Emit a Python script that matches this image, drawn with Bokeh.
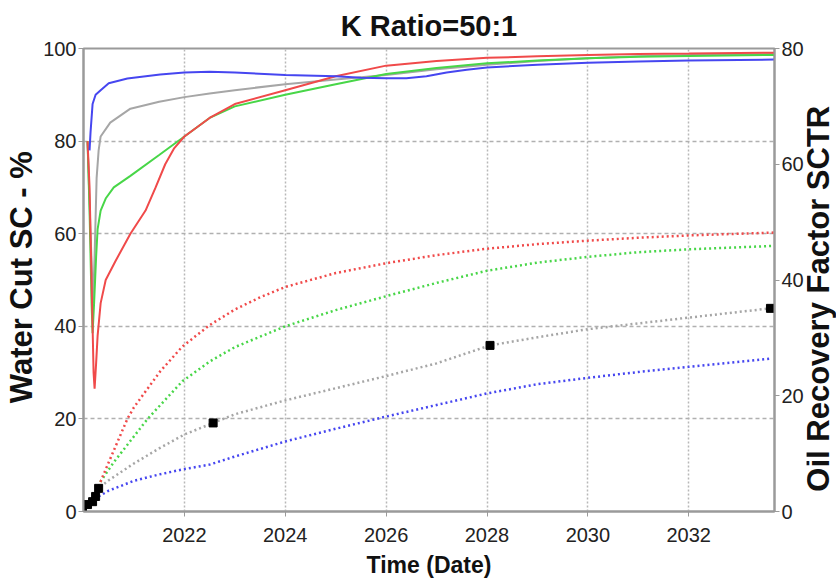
import math
from bokeh.plotting import figure
from bokeh.layouts import row
from bokeh.models import Range1d, LinearAxis, FixedTicker
from bokeh.core.properties import value
from bokeh.embed import file_html
from bokeh.resources import INLINE

# ---------------- data ----------------
# Water cut (left axis, %)
red_wc_t = [2020.08, 2020.12, 2020.17, 2020.20, 2020.22, 2020.25, 2020.28, 2020.34, 2020.44, 2020.63,
            2020.93, 2021.23, 2021.43, 2021.62, 2021.80, 2022.0, 2022.5, 2023.0, 2024.0, 2025.0,
            2026.0, 2027.0, 2028.0, 2029.0, 2030.0, 2031.0, 2032.0, 2033.7]
red_wc_v = [80, 70, 45, 30, 26.5, 32, 38, 45, 50, 54,
            60, 65, 70, 75, 78.5, 81, 85, 88, 91, 94,
            96.3, 97.3, 98.0, 98.3, 98.6, 98.8, 98.9, 99.1]

green_wc_t = [2020.08, 2020.12, 2020.16, 2020.18, 2020.21, 2020.25, 2020.28, 2020.34, 2020.44, 2020.60,
              2020.93, 2021.5, 2022.0, 2022.5, 2023.0, 2024.0, 2025.0, 2026.0, 2027.0, 2028.0,
              2029.0, 2030.0, 2031.0, 2032.0, 2033.7]
green_wc_v = [80, 65, 45, 38.5, 45, 55, 61, 65, 67.6, 70,
              72.5, 77, 81, 85, 87.5, 90, 92.3, 94.5, 95.8, 96.8,
              97.4, 97.9, 98.2, 98.4, 98.6]

gray_wc_t = [2020.08, 2020.14, 2020.19, 2020.22, 2020.26, 2020.30, 2020.34, 2020.53, 2020.93, 2021.5,
             2022.0, 2022.5, 2023.0, 2024.0, 2025.0, 2026.0, 2027.0, 2028.0, 2029.0, 2030.0,
             2031.0, 2032.0, 2033.7]
gray_wc_v = [80, 60, 45, 55, 72, 78, 81, 84, 87, 88.5,
             89.5, 90.3, 91, 92.3, 93.3, 94.3, 95.5, 96.5, 97.3, 97.9,
             98.3, 98.6, 98.8]

blue_wc_t = [2020.12, 2020.14, 2020.18, 2020.24, 2020.34, 2020.50, 2020.87, 2021.52, 2022.0, 2022.5,
             2023.0, 2024.0, 2025.0, 2025.5, 2026.0, 2026.4, 2026.8, 2027.2, 2027.6, 2028.0,
             2029.0, 2030.0, 2031.0, 2032.0, 2033.7]
blue_wc_v = [78, 82, 88, 90, 91, 92.5, 93.5, 94.4, 94.8, 95,
             94.8, 94.3, 94.0, 93.7, 93.6, 93.6, 94.0, 94.8, 95.4, 95.9,
             96.5, 96.9, 97.2, 97.4, 97.6]

# Oil recovery factor (right axis)
red_rf_t = [2020.30, 2020.34, 2020.50, 2020.87, 2021.0, 2021.52, 2021.96, 2022.5, 2023.0, 2023.5,
            2024.0, 2025.0, 2026.0, 2027.0, 2028.0, 2029.0, 2030.0, 2031.0, 2032.0, 2033.7]
red_rf_v = [4.3, 5.2, 8.5, 16, 18, 24.2, 28.5, 32.2, 34.9, 37.0,
            38.8, 41.2, 42.9, 44.3, 45.4, 46.2, 46.8, 47.3, 47.7, 48.2]

green_rf_t = [2020.30, 2020.34, 2020.60, 2021.27, 2021.96, 2022.5, 2023.0, 2024.0, 2025.0, 2026.0,
              2027.0, 2028.0, 2029.0, 2030.0, 2031.0, 2032.0, 2033.7]
green_rf_v = [4.3, 5.2, 8.5, 16, 22.5, 25.9, 28.4, 32.0, 34.8, 37.2,
              39.5, 41.6, 43.0, 44.0, 44.8, 45.3, 45.9]

gray_rf_t = [2019.98, 2020.08, 2020.18, 2020.24, 2020.30, 2020.50, 2021.0, 2021.5, 2022.0, 2022.57,
             2023.0, 2024.0, 2025.0, 2026.0, 2027.0, 2028.06, 2029.0, 2030.0, 2031.0, 2032.0, 2033.62]
gray_rf_v = [0.3, 1.2, 1.7, 2.6, 4.0, 5.4, 8.3, 10.9, 13.3, 15.3,
             16.8, 19.2, 21.3, 23.4, 25.6, 28.7, 30.1, 31.5, 32.5, 33.5, 35.1]
gray_marker_idx = [0, 1, 2, 3, 4, 9, 15, 20]

blue_rf_t = [2020.30, 2020.50, 2021.0, 2021.5, 2021.98, 2022.5, 2023.0, 2024.0, 2025.0, 2026.0,
             2027.0, 2028.0, 2029.0, 2030.0, 2031.0, 2032.0, 2033.62]
blue_rf_v = [2.6, 3.6, 5.3, 6.4, 7.3, 8.1, 9.5, 12.1, 14.3, 16.4,
             18.4, 20.4, 22.0, 23.1, 24.1, 25.0, 26.4]

x_ticks = [2022, 2024, 2026, 2028, 2030, 2032]
left_ticks = [0, 20, 40, 60, 80, 100]
right_ticks = [0, 20, 40, 60, 80]
grid_ticks = [20, 40, 60, 80]

title_text = "K Ratio=50:1"
x_title = "Time (Date)"
left_title = "Water Cut SC - %"
right_title = "Oil Recovery Factor SCTR"

RED = "#f04a4a"
GREEN = "#48d648"
GRAY = "#a6a6a6"
BLUE = "#4646f0"
FONT = "Liberation Sans"
AX = "#9a9a9a"
H = 581
LW, MW, RW = 40, 766, 30   # left strip, main plot, right strip widths


def side_strip(width, text, x_px, y_px, size):
    """Narrow figure holding a rotated axis title (reads bottom-to-top)."""
    s = figure(width=width, height=H, output_backend="svg", toolbar_location=None,
               x_range=Range1d(0, width), y_range=Range1d(0, H),
               x_axis_type=None, y_axis_type=None,
               min_border=0, min_border_left=0, min_border_right=0,
               min_border_top=0, min_border_bottom=0)
    s.grid.visible = False
    s.outline_line_color = None
    s.background_fill_color = "white"
    s.border_fill_color = "white"
    s.text(x=[x_px], y=[H - y_px], text=[text], angle=math.pi / 2,
           text_align="center", text_baseline="middle",
           text_font=value(FONT), text_font_size=size, text_font_style="bold",
           text_color="#111111")
    return s


X0, X1 = 2020.0, 2033.7
p = figure(width=MW, height=H, output_backend="svg", toolbar_location=None,
           x_range=Range1d(X0, X1), y_range=Range1d(0, 100),
           min_border_left=83 - LW, min_border_right=LW + MW - 775,
           min_border_top=47, min_border_bottom=70,
           background_fill_color="white", border_fill_color="white")
p.extra_y_ranges = {"rf": Range1d(0, 80)}

p.title.text = title_text
p.title.align = "center"
p.title.text_font = FONT
p.title.text_font_size = "29px"
p.title.text_font_style = "bold"
p.title.text_color = "#111111"
p.title.standoff = 14

p.outline_line_color = AX
p.outline_line_width = 2

# grids
p.ygrid.ticker = FixedTicker(ticks=grid_ticks)
p.ygrid.grid_line_color = "#b0b0b0"
p.ygrid.grid_line_dash = "4 3"
p.ygrid.grid_line_width = 1.5
p.xgrid.ticker = FixedTicker(ticks=x_ticks)
p.xgrid.grid_line_color = "#b8b8b8"
p.xgrid.grid_line_dash = "2 2"
p.xgrid.grid_line_width = 1.5


def style_axis(ax, ticks):
    ax.ticker = FixedTicker(ticks=ticks)
    ax.major_label_text_font = FONT
    ax.major_label_text_font_size = "20px"
    ax.major_label_text_color = "#222222"
    ax.major_label_standoff = 2
    ax.axis_line_color = AX
    ax.axis_line_width = 2
    ax.major_tick_line_color = AX
    ax.major_tick_in = 0
    ax.major_tick_out = 5
    ax.minor_tick_line_color = None


style_axis(p.xaxis[0], x_ticks)
p.xaxis[0].major_label_standoff = 11
p.xaxis[0].axis_label = x_title
p.xaxis[0].axis_label_text_font = FONT
p.xaxis[0].axis_label_text_font_size = "23px"
p.xaxis[0].axis_label_text_font_style = "bold"
p.xaxis[0].axis_label_text_color = "#111111"
p.xaxis[0].axis_label_standoff = 7

style_axis(p.yaxis[0], left_ticks)

rax = LinearAxis(y_range_name="rf")
style_axis(rax, right_ticks)
p.add_layout(rax, "right")

# recovery factor (dotted, right axis)
dot = dict(line_dash="2 3", line_width=2.5, y_range_name="rf")
p.line(blue_rf_t, blue_rf_v, line_color=BLUE, **dot)
p.line(gray_rf_t, gray_rf_v, line_color=GRAY, **dot)
p.line(green_rf_t, green_rf_v, line_color=GREEN, **dot)
p.line(red_rf_t, red_rf_v, line_color=RED, **dot)
p.scatter([gray_rf_t[i] for i in gray_marker_idx], [gray_rf_v[i] for i in gray_marker_idx],
          marker="square", size=8, color="black", y_range_name="rf")

# water cut (solid, left axis)
p.line(gray_wc_t, gray_wc_v, line_color=GRAY, line_width=2)
p.line(green_wc_t, green_wc_v, line_color=GREEN, line_width=2)
p.line(red_wc_t, red_wc_v, line_color=RED, line_width=2)
p.line(blue_wc_t, blue_wc_v, line_color=BLUE, line_width=2)

left_strip = side_strip(LW, left_title, 21, 287, "31px")
right_strip = side_strip(RW, right_title, 818 - (LW + MW), 314, "31px")

layout = row(left_strip, p, right_strip, spacing=0)
open("out.html", "w").write(file_html(layout, INLINE))
